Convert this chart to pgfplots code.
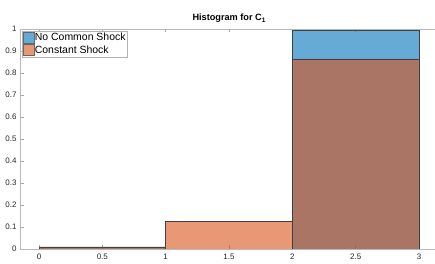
\documentclass[border=0pt]{standalone}
\usepackage{fontspec}
\setmainfont{Liberation Sans}
\usepackage{pgfplots}
\pgfplotsset{compat=1.18}
\definecolor{mblue}{RGB}{0,114,189}
\definecolor{morange}{RGB}{217,83,25}
\begin{document}
\begin{tikzpicture}
\begin{axis}[
  scale only axis, width=418bp, height=220bp,
  xmin=-0.15, xmax=3.15, ymin=0, ymax=1,
  xtick={0,0.5,1,1.5,2,2.5,3},
  ytick={0,0.1,0.2,0.3,0.4,0.5,0.6,0.7,0.8,0.9,1},
  tick align=inside, major tick length=3.5bp,
  axis line style={gray!55, line width=0.6bp},
  tick style={gray!70, line width=0.5bp},
  ticklabel style={font=\fontsize{8}{9}\selectfont, text=black!85},
  xticklabel style={yshift=-1bp},
  /pgf/number format/assume math mode=true,
  title={\fontsize{9.2}{10}\selectfont\bfseries Histogram for C\raisebox{-2.2bp}{\fontsize{6.5}{7}\selectfont 1}},
  title style={yshift=-3bp},
  legend cell align=left,
  legend style={at={(rel axis cs:0.004,0.992)}, anchor=north west,
    font=\fontsize{10.5}{12}\selectfont, draw=gray!60, line width=0.6bp,
    inner sep=1bp, row sep=1bp, nodes={inner sep=0.5bp}},
  legend image code/.code={\path[#1, draw=black!60, line width=0.4bp] (0bp,-5.5bp) rectangle (11bp,5.5bp);},
]
\addplot[ybar interval, fill=mblue, fill opacity=0.6, draw=black!75, line width=0.5bp]
  coordinates {(0,0.01) (1,0) (2,0.995) (3,0.995)};
\addlegendentry{No Common Shock}
\addplot[ybar interval, fill=morange, fill opacity=0.6, draw=black!75, line width=0.5bp]
  coordinates {(0,0.01) (1,0.127) (2,0.864) (3,0.864)};
\addlegendentry{Constant Shock}
\coordinate (bl) at (rel axis cs:0,0);
\coordinate (tr) at (rel axis cs:0,1);
\end{axis}
\pgfresetboundingbox
\useasboundingbox ([xshift=-20bp,yshift=-15bp]bl) rectangle ([xshift=415bp,yshift=29bp]tr);
\end{tikzpicture}
\end{document}
